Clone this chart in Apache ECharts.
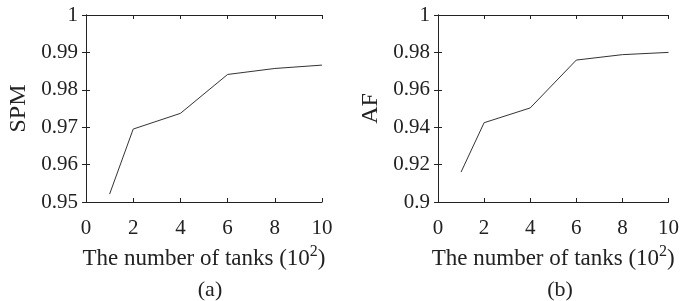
<!DOCTYPE html>
<html>
<head>
<meta charset="utf-8">
<script src="https://cdn.jsdelivr.net/npm/echarts@6/dist/echarts.min.js"></script>
<style>
  html, body { margin: 0; padding: 0; background: #fff; }
  #chart { width: 682px; height: 301px; }
</style>
</head>
<body>
<div id="chart"></div>
<script>
// number of tanks (x 10^2)
const tanks = [1, 2, 4, 6, 8, 10];
const spmValues = [0.9521, 0.9695, 0.9737, 0.9841, 0.9857, 0.9866];
const afValues = [0.916, 0.9424, 0.9503, 0.9759, 0.9788, 0.980];
const xTicks = [0, 2, 4, 6, 8, 10];

const font = "Liberation Serif";
const ink = "#222";

const chart = echarts.init(document.getElementById("chart"));

function xAxisPair(gridIndex) {
  return [
    {
      type: "value",
      gridIndex: gridIndex,
      min: xTicks[0],
      max: xTicks[xTicks.length - 1],
      interval: 2,
      axisLine: { lineStyle: { color: ink, width: 1 } },
      axisTick: { inside: true, length: 4, lineStyle: { color: ink } },
      axisLabel: {
        color: ink,
        fontFamily: font,
        fontSize: 21,
        margin: 16,
      },
      splitLine: { show: false },
      name: "The number of tanks (10{sup|2})",
      nameLocation: "middle",
      nameGap: 41,
      nameTextStyle: {
        color: ink,
        fontFamily: font,
        fontSize: 23,
        rich: {
          sup: {
            fontFamily: font,
            fontSize: 16,
            color: ink,
            padding: [0, 0, 15, 0],
          },
        },
      },
    },
    {
      type: "value",
      gridIndex: gridIndex,
      position: "top",
      min: xTicks[0],
      max: xTicks[xTicks.length - 1],
      interval: 2,
      axisLine: { lineStyle: { color: ink, width: 1 } },
      axisTick: { inside: true, length: 4, lineStyle: { color: ink } },
      axisLabel: { show: false },
      splitLine: { show: false },
    },
  ];
}

function yAxisPair(gridIndex, min, interval, name) {
  return [
    {
      type: "value",
      gridIndex: gridIndex,
      min: min,
      max: 1,
      interval: interval,
      axisLine: { show: true, lineStyle: { color: ink, width: 1 } },
      axisTick: { show: true, inside: true, length: 4, lineStyle: { color: ink } },
      axisLabel: {
        color: ink,
        fontFamily: font,
        fontSize: 21,
        margin: 8,
      },
      splitLine: { show: false },
      name: name,
      nameLocation: "middle",
      nameGap: 55,
      nameTextStyle: { color: ink, fontFamily: font, fontSize: 24 },
    },
    {
      type: "value",
      gridIndex: gridIndex,
      position: "right",
      min: min,
      max: 1,
      interval: interval,
      axisLine: { show: true, lineStyle: { color: ink, width: 1 } },
      axisTick: { show: true, inside: true, length: 4, lineStyle: { color: ink } },
      axisLabel: { show: false },
      splitLine: { show: false },
    },
  ];
}

const option = {
  animation: false,
  backgroundColor: "#fff",
  title: [
    {
      text: "(a)",
      left: 205,
      top: 274,
      textAlign: "center",
      textStyle: { color: ink, fontFamily: font, fontSize: 22, fontWeight: "normal" },
    },
    {
      text: "(b)",
      left: 555,
      top: 274,
      textAlign: "center",
      textStyle: { color: ink, fontFamily: font, fontSize: 22, fontWeight: "normal" },
    },
  ],
  grid: [
    { left: 86, width: 236, top: 15, height: 187 },
    { left: 438, width: 233, top: 15, height: 187 },
  ],
  xAxis: [...xAxisPair(0), ...xAxisPair(1)],
  yAxis: [
    ...yAxisPair(0, 0.95, 0.01, "SPM"),
    ...yAxisPair(1, 0.9, 0.02, "AF"),
  ],
  series: [
    {
      type: "line",
      xAxisIndex: 0,
      yAxisIndex: 0,
      data: tanks.map((t, i) => [t, spmValues[i]]),
      showSymbol: false,
      lineStyle: { color: "#333", width: 1 },
    },
    {
      type: "line",
      xAxisIndex: 2,
      yAxisIndex: 2,
      data: tanks.map((t, i) => [t, afValues[i]]),
      showSymbol: false,
      lineStyle: { color: "#333", width: 1 },
    },
  ],
};

chart.setOption(option);
</script>
</body>
</html>
